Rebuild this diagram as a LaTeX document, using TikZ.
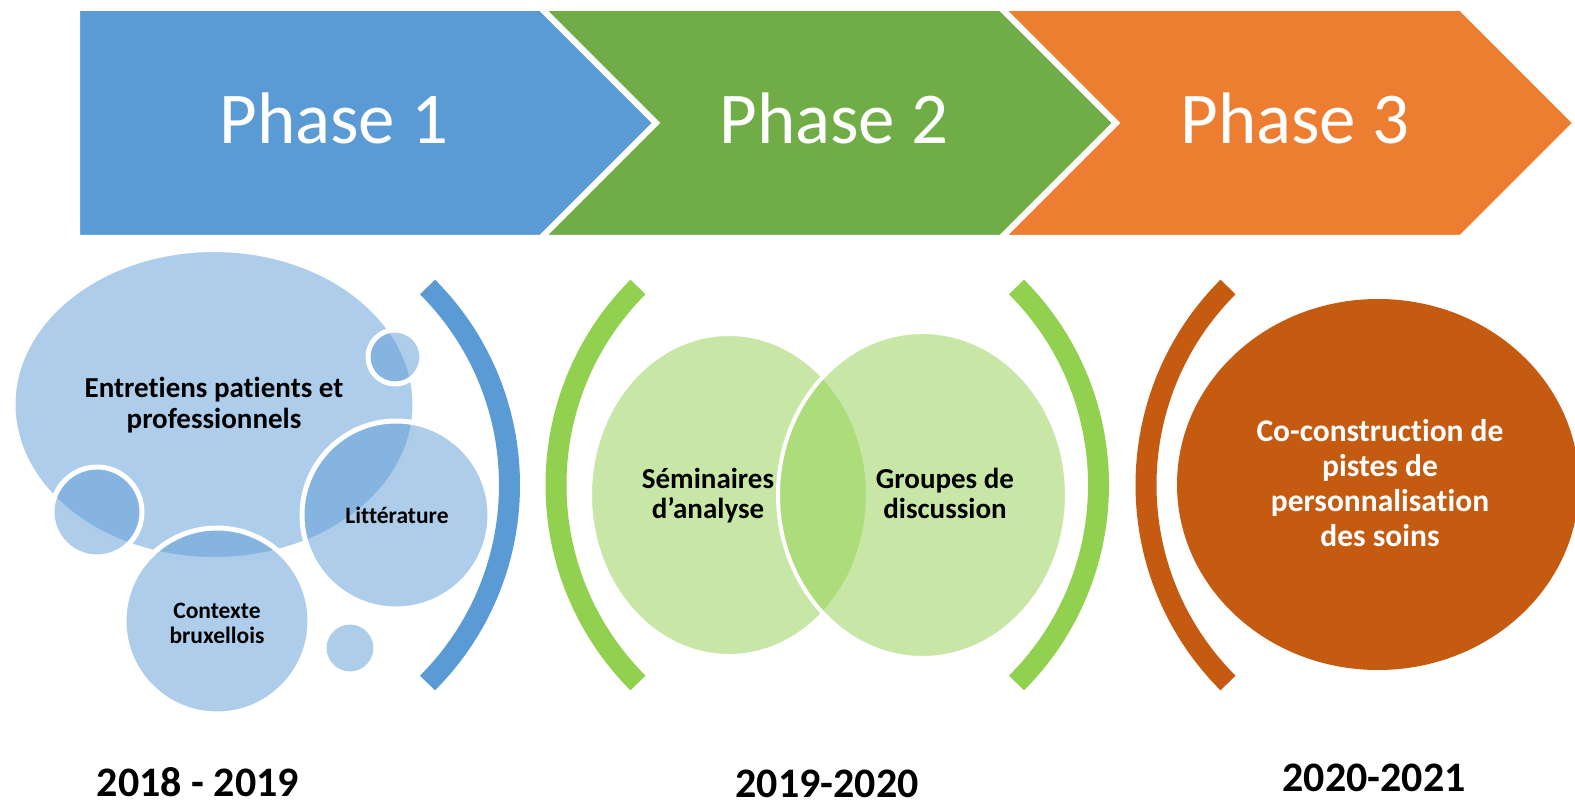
\documentclass[tikz,border=0pt]{standalone}
\usepackage{fontspec}
\setmainfont{Carlito}[Ligatures=NoCommon]

\definecolor{phaseblue}{HTML}{5B9BD5}
\definecolor{phasegreen}{HTML}{70AD47}
\definecolor{phaseorange}{HTML}{ED7D31}
\definecolor{limegreen}{HTML}{92D050}
\definecolor{rust}{HTML}{C55A11}

\tikzset{
  chevron/.style={draw=white, line width=6},
  phaselabel/.style={text=white, anchor=base, inner sep=0pt, font=\fontsize{73}{80}\selectfont},
  bubble/.style={fill=#1, fill opacity=0.5, draw=white, line width=5},
  bracket/.style={draw=#1, line width=21},
  bubbletext/.style={align=center, anchor=base, inner sep=0pt},
  yearlabel/.style={anchor=base, inner sep=0pt, font=\bfseries\fontsize{42}{46}\selectfont}
}

\begin{document}
\begin{tikzpicture}[x=1pt, y=-1pt]

\useasboundingbox (0,0) rectangle (1575,805);

% Chevrons along the top
\def\ctop{8}
\def\cbot{238}
\def\cmid{123}
\fill[phaseblue, chevron] (77,\ctop) -- (541,\ctop) -- (656,\cmid) -- (541,\cbot) -- (77,\cbot) -- cycle;
\fill[phasegreen, chevron] (541,\ctop) -- (1001,\ctop) -- (1116,\cmid) -- (1001,\cbot) -- (541,\cbot) -- (656,\cmid) -- cycle;
\fill[phaseorange, chevron] (1001,\ctop) -- (1461,\ctop) -- (1576,\cmid) -- (1461,\cbot) -- (1001,\cbot) -- (1116,\cmid) -- cycle;

\node[phaselabel] (phase1) at (334,144) {Phase 1};
\node[phaselabel] (phase2) at (834,144) {Phase 2};
\node[phaselabel] (phase3) at (1295,144) {Phase 3};

% Phase 1: bubbles
\draw[bubble=phaseblue] (214,404.5) ellipse [x radius=201, y radius=155];
\draw[bubble=phaseblue] (395,357) circle [radius=27];
\draw[bubble=phaseblue] (97,512) circle [radius=45];
\draw[bubble=phaseblue] (396,515) circle [radius=94];
\draw[bubble=phaseblue] (217,621) circle [radius=93];
\draw[bubble=phaseblue] (350,648) circle [radius=26];

% (base anchor = last line of the text)
\node[bubbletext, font=\bfseries\fontsize{29}{31}\selectfont] (entretiens) at (214,428) {Entretiens patients et\\professionnels};
\node[bubbletext, font=\bfseries\fontsize{23.5}{25}\selectfont] (litterature) at (397,523) {Littérature};
\node[bubbletext, font=\bfseries\fontsize{23.5}{25}\selectfont] (contexte) at (217,643) {Contexte\\bruxellois};

% Phase 2: two overlapping ellipses
\draw[bubble=limegreen, line width=4] (729,495) ellipse [x radius=139, y radius=161];
\draw[bubble=limegreen, line width=4] (922.5,495) ellipse [x radius=144.5, y radius=163];

\node[bubbletext, font=\bfseries\fontsize{29}{30}\selectfont] (seminaires) at (708,518) {Séminaires\\d’analyse};
\node[bubbletext, font=\bfseries\fontsize{29}{30}\selectfont] (groupes) at (945,518) {Groupes de\\discussion};

% Phase 3: one disc
\fill[rust] (1378,484.5) ellipse [x radius=201, y radius=185.5];
\node[bubbletext, text=white, font=\bfseries\fontsize{31.5}{35}\selectfont] (coconstruction) at (1380,546) {Co-construction de\\pistes de\\personnalisation\\des soins};

% Brackets
\draw[bracket=phaseblue] (229.5,485) ++(-45:280) arc[start angle=-45, end angle=45, radius=280];
\draw[bracket=limegreen] (836,485) ++(135:280) arc[start angle=135, end angle=225, radius=280];
\draw[bracket=limegreen] (818.5,485) ++(-45:280) arc[start angle=-45, end angle=45, radius=280];
\draw[bracket=rust] (1426,485) ++(135:280) arc[start angle=135, end angle=225, radius=280];

% Years
\node[yearlabel] (year1) at (198,796) {2018 - 2019};
\node[yearlabel] (year2) at (827,797) {2019-2020};
\node[yearlabel] (year3) at (1374,791) {2020-2021};

\end{tikzpicture}
\end{document}
